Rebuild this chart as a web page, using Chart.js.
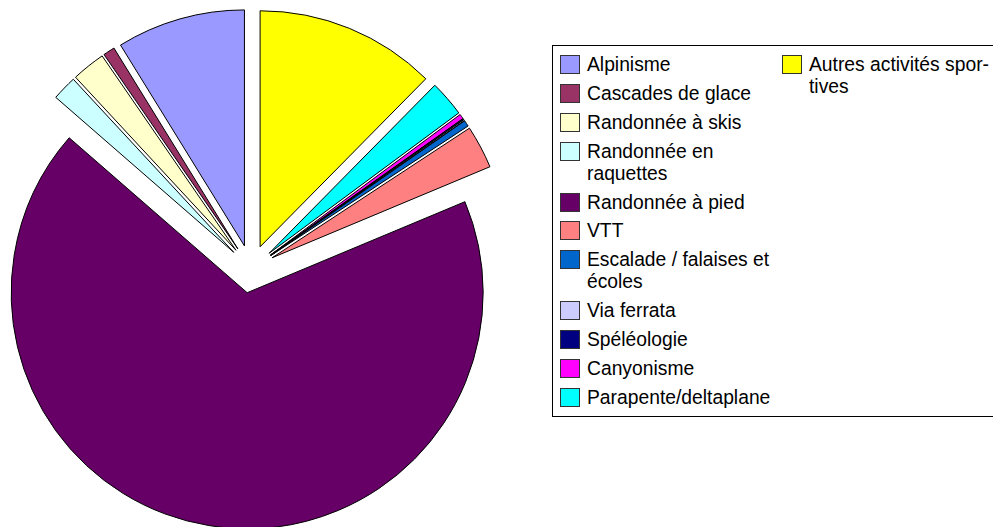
<!DOCTYPE html>
<html><head><meta charset="utf-8">
<script src="https://cdn.jsdelivr.net/npm/chart.js@4"></script>
<style>
html,body{margin:0;padding:0;background:#fff;overflow:hidden;width:993px;height:527px;}
#c{position:absolute;left:0;top:0;}
#legend{position:absolute;left:552px;top:45px;width:460px;height:372px;border:1px solid #000;box-sizing:border-box;font-family:"Liberation Sans",Arial,sans-serif;font-size:19.3px;line-height:22px;color:#000;}
.col{position:absolute;top:8px;display:flex;flex-direction:column;gap:6.9px;}
.item{position:relative;padding-left:27px;}
.sw{position:absolute;left:0;top:1px;width:20px;height:19px;box-sizing:border-box;border:1px solid #333;}
</style></head>
<body>
<canvas id="c" width="502" height="538"></canvas>
<div id="legend"><div class="col" id="col1" style="left:7px;width:216px"></div><div class="col" id="col2" style="left:229px;width:215px"></div></div>
<script>
// Categories in legend order (counter-clockwise from 12 o'clock in the pie)
const categories = ["Alpinisme","Cascades de glace","Randonnée à skis","Randonnée en raquettes","Randonnée à pied","VTT","Escalade / falaises et écoles","Via ferrata","Spéléologie","Canyonisme","Parapente/deltaplane","Autres activités spor\u00ADtives"];
// Share of accidents (%)
const values = [8.8, 0.8, 2.3, 1.7, 67.7, 2.95, 0.42, 0.07, 0.07, 0.33, 2.47, 12.39];
const colors = ["#9999FF","#993366","#FFFFCC","#CCFFFF","#660066","#FF8080","#0066CC","#CCCCFF","#000080","#FF00FF","#00FFFF","#FFFF00"];
const legendColumns = [[0,1,2,3,4,5,6,7,8,9,10],[11]];

// Pie is drawn clockwise by Chart.js: reverse to get the counter-clockwise order
const pieLabels = categories.slice().reverse();
const pieValues = values.slice().reverse();
const pieColors = colors.slice().reverse();

const EXPLODE = 24;
const explode = {
  id:'explode',
  beforeDatasetDraw(chart, args){
    const ctx = chart.ctx;
    args.meta.data.forEach(arc => {
      const {startAngle, endAngle} = arc.getProps(['startAngle','endAngle']);
      const h = (startAngle + endAngle) / 2;
      ctx.save();
      ctx.translate(Math.cos(h) * EXPLODE, Math.sin(h) * EXPLODE);
      arc.draw(ctx, chart.chartArea);
      ctx.restore();
    });
    return false;
  }
};

new Chart(document.getElementById('c'), {
  type:'pie',
  data:{labels:pieLabels, datasets:[{data:pieValues, backgroundColor:pieColors, borderColor:'#000', borderWidth:1, offset:0, radius:236}]},
  options:{responsive:false, animation:false, radius:236, layout:{padding:0}, events:[],
    plugins:{legend:{display:false}, tooltip:{enabled:false}, title:{display:false}}},
  plugins:[explode]
});

legendColumns.forEach((idxs, ci) => {
  const col = document.getElementById('col' + (ci + 1));
  idxs.forEach(i => {
    const it = document.createElement('div');
    it.className = 'item';
    const sw = document.createElement('span');
    sw.className = 'sw';
    sw.style.background = colors[i];
    it.appendChild(sw);
    it.appendChild(document.createTextNode(categories[i]));
    col.appendChild(it);
  });
});
</script>
</body></html>
